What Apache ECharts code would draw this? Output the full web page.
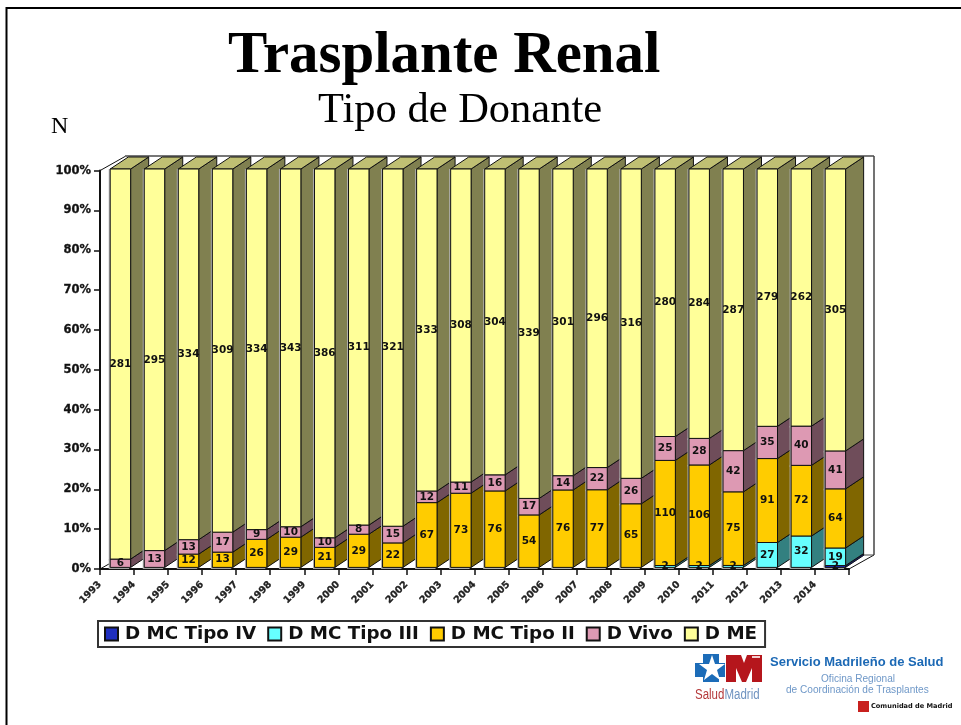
<!DOCTYPE html>
<html>
<head>
<meta charset="utf-8">
<style>html,body{margin:0;padding:0;background:#fff}#chart{width:961px;height:725px}</style>
<script src="https://cdn.jsdelivr.net/npm/echarts@6/dist/echarts.min.js"></script>
</head>
<body>
<div id="chart"></div>
<script>
var years = ['1993','1994','1995','1996','1997','1998','1999','2000','2001','2002','2003','2004','2005','2006','2007','2008','2009','2010','2011','2012','2013','2014'];
var dTipoIV  = [0,0,0,0,0,0,0,0,0,0,0,0,0,0,0,0,0,0,0,0,0,2];
var dTipoIII = [0,0,0,0,0,0,0,0,0,0,0,0,0,0,0,0,2,2,2,27,32,19];
var dTipoII  = [0,0,12,13,26,29,21,29,22,67,73,76,54,76,77,65,110,106,75,91,72,64];
var dVivo    = [6,13,13,17,9,10,10,8,15,12,11,16,17,14,22,26,25,28,42,35,40,41];
var dME      = [281,295,334,309,334,343,386,311,321,333,308,304,339,301,296,316,280,284,287,279,262,305];

var yTicks = [0,10,20,30,40,50,60,70,80,90,100];

var stacks = [
  {name:'D MC Tipo IV',  values:dTipoIV,  front:'#1f2fc0', side:'#14207a', top:'#1a2896'},
  {name:'D MC Tipo III', values:dTipoIII, front:'#66ffff', side:'#338080', top:'#4cbfbf'},
  {name:'D MC Tipo II',  values:dTipoII,  front:'#ffcc00', side:'#806600', top:'#bf9900'},
  {name:'D Vivo',        values:dVivo,    front:'#dd99b3', side:'#6f4d5a', top:'#a67386'},
  {name:'D ME',          values:dME,      front:'#ffff99', side:'#808050', top:'#bfbf73'}
];

// cada tramo: [posicion, desde %, hasta %, valor, es el ultimo]
function stackData(idx){
  return years.map(function(y,i){
    var total = 0, below = 0;
    stacks.forEach(function(s,k){ total += s.values[i]; if(k<idx) below += s.values[i]; });
    var v = stacks[idx].values[i];
    return [i+0.5, below/total*100, (below+v)/total*100, v, idx===stacks.length-1 ? 1 : 0];
  });
}

function poly(pts,fill,z2){
  return {type:'polygon',z2:z2,shape:{points:pts},style:{fill:fill,stroke:'#111',lineWidth:1}};
}

function renderBar(stack){
  return function(params,api){
    var v = api.value(3);
    if(!v) return null;
    var cat = api.size([1,0])[0];
    var w = cat*0.6, dx = cat*0.53, dy = 12;
    var a = api.coord([api.value(0),api.value(1)]);
    var b = api.coord([api.value(0),api.value(2)]);
    var x0 = a[0]-w/2+3.4, x1 = x0+w, y0 = a[1]-1.6, y1 = b[1]-1.6;
    var kids = [
      poly([[x1,y0],[x1+dx,y0-dy],[x1+dx,y1-dy],[x1,y1]],stack.side,1),
      {type:'rect',z2:10,shape:{x:x0-1.5,y:y1,width:w,height:y0-y1+1.5},style:{fill:'#b0b0b0'}},
      {type:'rect',z2:11,shape:{x:x0,y:y1,width:w,height:y0-y1},style:{fill:stack.front,stroke:'#111',lineWidth:1}},
      {type:'text',z2:20,style:{text:String(v),x:x0+w/2,y:(y0+y1)/2,fill:'#111',align:'center',verticalAlign:'middle',
        font:'bold 10.5px "DejaVu Sans"'}}
    ];
    if(api.value(4)) kids.push(poly([[x0,y1],[x1,y1],[x1+dx,y1-dy],[x0+dx,y1-dy]],stack.top,1));
    return {type:'group',children:kids};
  };
}

var series = stacks.map(function(s,i){
  return {
    name:s.name, type:'custom', coordinateSystem:'cartesian2d',
    data:stackData(i), encode:{x:0,y:[1,2]},
    itemStyle:{color:s.front,borderColor:'#111',borderWidth:1},
    renderItem:renderBar(s), animation:false, silent:true
  };
});

function logoText(text,x,y,fill,font,scaleX){
  return {type:'text',z:3,x:x,y:y,scaleX:scaleX||1,style:{text:text,x:0,y:0,fill:fill,font:font,verticalAlign:'middle'}};
}

var chart = echarts.init(document.getElementById('chart'),null,{renderer:'canvas'});
chart.setOption({
  animation:false,
  backgroundColor:'#fff',
  title:[
    {text:'Trasplante Renal',left:223,top:22,textStyle:{fontFamily:'Liberation Serif',fontWeight:'bold',fontSize:58.9,color:'#000'}},
    {text:'Tipo de Donante',left:313,top:84,textStyle:{fontFamily:'Liberation Serif',fontWeight:'normal',fontSize:42.5,color:'#000'}},
    {text:'N',left:46,top:110,textStyle:{fontFamily:'Liberation Serif',fontWeight:'normal',fontSize:24,color:'#000'}}
  ],
  grid:{left:100,top:170.6,width:749,height:398.4},
  xAxis:{
    type:'value',min:0,max:22,interval:1,
    splitLine:{show:false},
    axisLine:{lineStyle:{color:'#111',width:2}},
    axisTick:{length:6,lineStyle:{color:'#111',width:1.5}},
    axisLabel:{rotate:45,margin:14,padding:[12,0,0,0],color:'#222',fontFamily:'DejaVu Sans',fontWeight:'bold',fontSize:9.6,
      textBorderColor:'#222',textBorderWidth:0.3,
      formatter:function(v){ return years[v] || ''; }}
  },
  yAxis:{
    type:'value',min:yTicks[0],max:yTicks[yTicks.length-1],interval:10,
    splitLine:{show:false},
    axisLine:{show:true,lineStyle:{color:'#111',width:2}},
    axisTick:{show:true,length:6,lineStyle:{color:'#111',width:1.5}},
    axisLabel:{margin:9,color:'#111',fontFamily:'DejaVu Sans',fontWeight:'bold',fontSize:11.5,
      textBorderColor:'#111',textBorderWidth:0.3,formatter:'{value}%'}
  },
  legend:{
    left:98,top:621,
    data:stacks.map(function(s){return s.name;}),
    orient:'horizontal',icon:'rect',itemWidth:13,itemHeight:13,itemGap:11,
    padding:[4,8,4,6],
    backgroundColor:'#fff',borderColor:'#333',borderWidth:2,
    selectedMode:false,
    textStyle:{fontFamily:'DejaVu Sans',fontWeight:'bold',fontSize:18.3,color:'#111',padding:[0,0,0,2]}
  },
  graphic:[
    // marco de la diapositiva
    {type:'polyline',z:0,shape:{points:[[6.5,725],[6.5,8],[961,8]]},style:{fill:null,stroke:'#000',lineWidth:2}},
    // paredes 3D
    {type:'line',z:0,shape:{x1:100,y1:170.6,x2:125,y2:156.5},style:{stroke:'#111',lineWidth:1}},
    {type:'line',z:0,shape:{x1:125,y1:156,x2:874,y2:156},style:{stroke:'#777',lineWidth:2}},
    {type:'line',z:0,shape:{x1:874,y1:156,x2:874,y2:555},style:{stroke:'#444',lineWidth:1.5}},
    {type:'line',z:0,shape:{x1:849,y1:569,x2:874,y2:555},style:{stroke:'#111',lineWidth:1}},
    {type:'line',z:0,shape:{x1:860,y1:555,x2:874,y2:555},style:{stroke:'#444',lineWidth:1}},
    {type:'line',z:0,shape:{x1:100,y1:569,x2:125,y2:555},style:{stroke:'#111',lineWidth:1}},
    // logo SaludMadrid
    {type:'polygon',z:3,shape:{points:[[703,654],[719,654],[719,663],[725,663],[725,677],[719,677],[719,682],[703,682],[703,677],[695,677],[695,663],[703,663]]},style:{fill:'#1c6cb8'}},
    {type:'polygon',z:3,shape:{points:[[712,655],[715,664],[725,664],[717,670],[720,680],[712,674],[704,680],[707,670],[699,664],[709,664]]},style:{fill:'#fff'}},
    {type:'polygon',z:3,shape:{points:[[726,655],[741,655],[744,663],[747,655],[762,655],[762,682],[752,682],[752,668],[746,682],[742,682],[736,668],[736,682],[726,682]]},style:{fill:'#b5161c'}},
    {type:'rect',z:3,shape:{x:752,y:656,width:8,height:2},style:{fill:'#f3d0d0'}},
    logoText('Salud',695,695,'#b5393a','14px "Liberation Sans"',0.82),
    logoText('Madrid',724.5,695,'#6f93c0','14px "Liberation Sans"',0.82),
    logoText('Servicio Madrileño de Salud',770,662,'#1c69b5','bold 13px "Liberation Sans"'),
    logoText('Oficina Regional',821,679,'#6f98c8','10.1px "Liberation Sans"'),
    logoText('de Coordinación de Trasplantes',786,690,'#6f98c8','10.1px "Liberation Sans"'),
    {type:'rect',z:3,shape:{x:858,y:701,width:11,height:11},style:{fill:'#c8201e'}},
    logoText('Comunidad de Madrid',871,706.5,'#111','bold 6.6px "DejaVu Sans"')
  ],
  series:series
});
</script>
</body>
</html>
